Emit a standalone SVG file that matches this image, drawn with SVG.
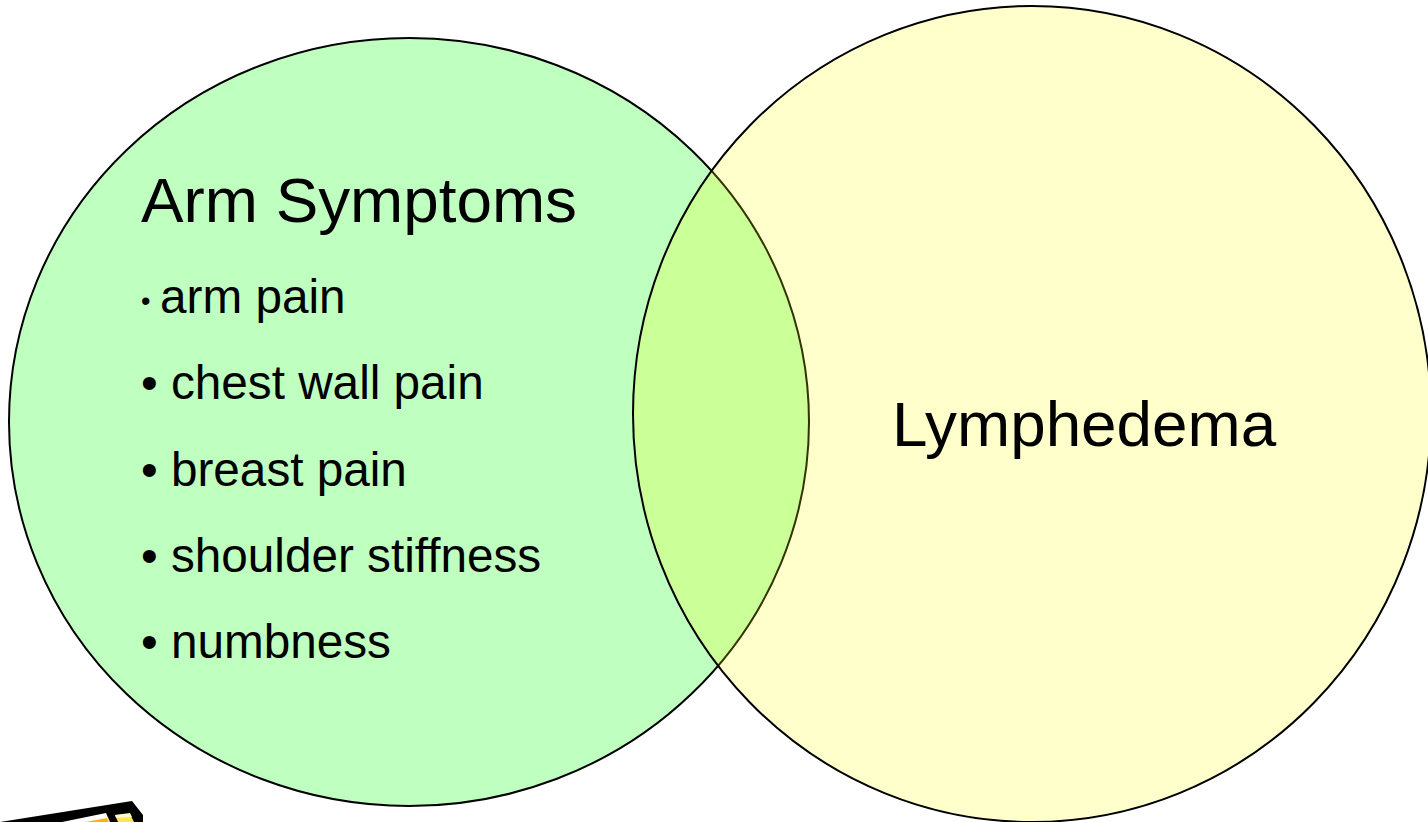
<svg xmlns="http://www.w3.org/2000/svg" width="1428" height="822" viewBox="0 0 1428 822">
<style>
.c{stroke:#000;stroke-width:2}
text{font-family:"Liberation Sans",Arial,sans-serif;fill:#000}
.h{font-size:63.8px}
.b{font-size:47.7px}
</style>
<rect width="1428" height="822" fill="#fff"/>
<g id="arm-symptoms">
<ellipse class="c" cx="409" cy="422" rx="400" ry="384" fill="#bfffbf"/>
<text class="h" x="141" y="222">Arm Symptoms</text>
<text x="141" y="310" font-size="27">•</text>
<text class="b" x="160" y="312.500">arm pain</text>
<text class="b" x="141" y="398.500">• chest wall pain</text>
<text class="b" x="141" y="485.500">• breast pain</text>
<text class="b" x="141" y="571.500">• shoulder stiffness</text>
<text class="b" x="141" y="657.500">• numbness</text>
</g>
<g id="lymphedema">
<ellipse class="c" cx="1032" cy="414" rx="399" ry="408" fill="#ffff00" fill-opacity="0.2"/>
<text class="h" x="892" y="446">Lymphedema</text>
</g>
<g id="icon">
<polygon points="0,822 132,801 143,815 143,822" fill="#000"/>
<polygon points="62,822 106,813 110,822" fill="#fff"/>
<polygon points="85,822 107,818 109,822" fill="#ffb400"/>
<polygon points="115,815 130,814 134,822 118,822" fill="#ffe650"/>
<polygon points="115,815 130,813 132,817 116,818" fill="#fff8c8"/>
</g>
</svg>
